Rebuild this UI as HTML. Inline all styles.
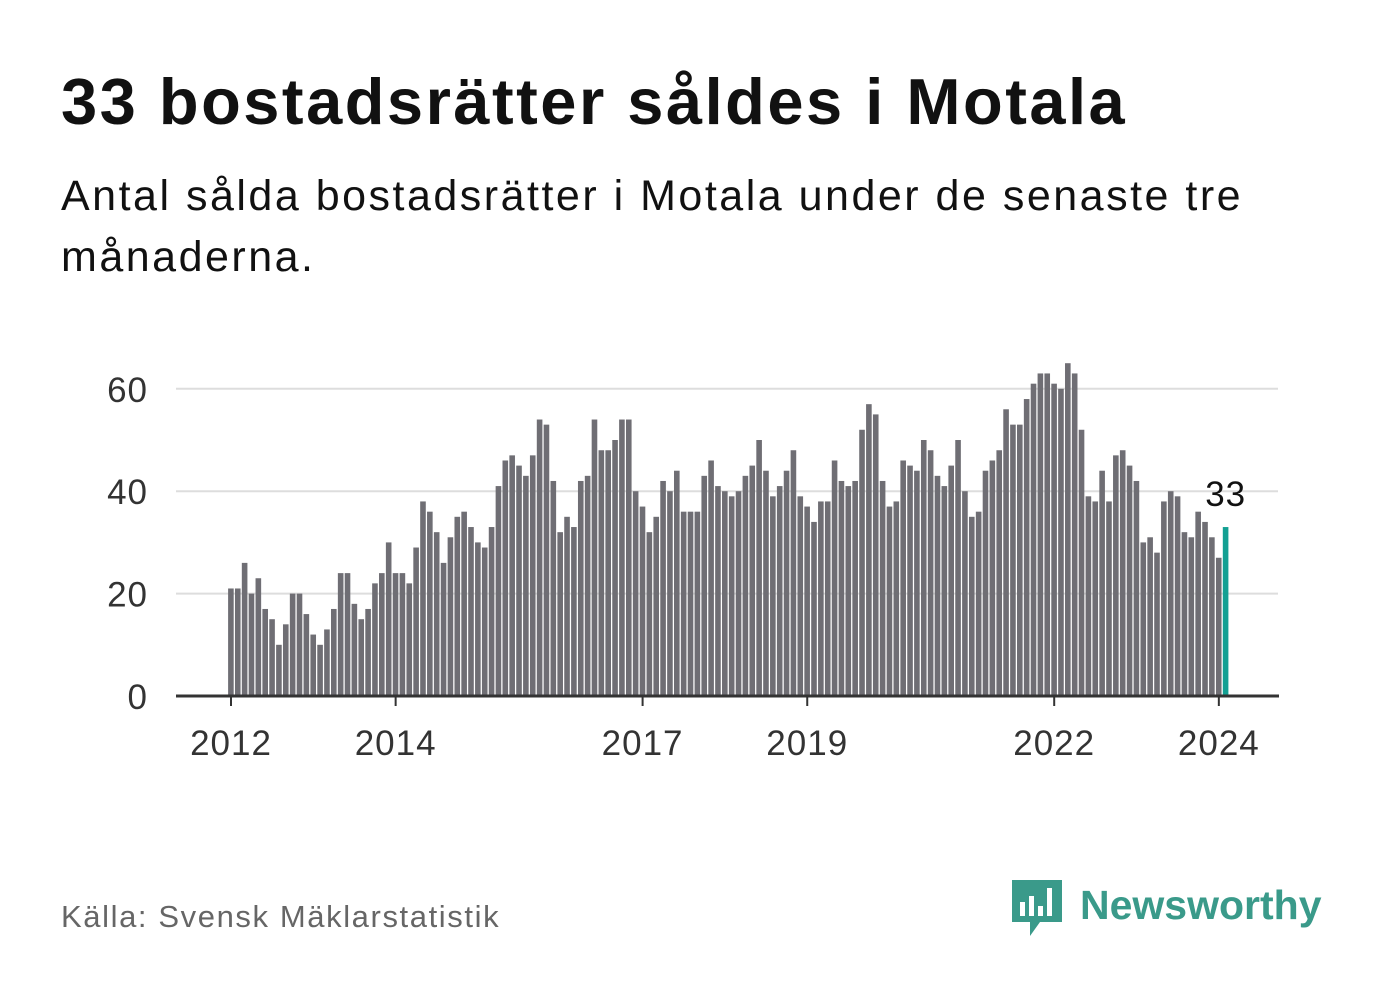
<!DOCTYPE html>
<html><head><meta charset="utf-8"><style>
body{margin:0;width:1382px;height:999px;background:#fff;font-family:"Liberation Sans",sans-serif;overflow:hidden;position:relative}
h1{position:absolute;left:61px;top:64px;margin:0;font-size:65px;font-weight:bold;color:#111;letter-spacing:2.5px;white-space:nowrap}
.sub{position:absolute;left:61px;top:166px;width:1280px;font-size:43px;line-height:61px;color:#111;letter-spacing:2.5px}
.src{position:absolute;left:61px;top:899px;font-size:31px;color:#666;letter-spacing:1.6px}
.logo{position:absolute;left:1010px;top:878px}
.logo span{position:absolute;left:70px;top:4px;font-size:41px;font-weight:bold;color:#3a9a8a;white-space:nowrap}
</style></head><body>
<h1>33 bostadsrätter såldes i Motala</h1>
<div class="sub">Antal sålda bostadsrätter i Motala under de senaste tre<br>månaderna.</div>
<svg id="chart" width="1382" height="999" style="position:absolute;left:0;top:0"></svg>
<div class="src">Källa: Svensk Mäklarstatistik</div>
<div class="logo">
<svg width="56" height="62" viewBox="0 0 56 62"><path d="M2 2h50v42H30l-10 14v-14H2z" fill="#3a9a8a"/><rect x="10" y="24" width="5" height="14" fill="#fff"/><rect x="19" y="18" width="5" height="20" fill="#fff"/><rect x="28" y="28" width="5" height="10" fill="#fff"/><rect x="37" y="10" width="5" height="28" fill="#fff"/></svg>
<span>Newsworthy</span></div>
<script>
const values=[21,21,26,20,23,17,15,10,14,20,20,16,
12,10,13,17,24,24,18,15,17,22,24,30,
24,24,22,29,38,36,32,26,31,35,36,33,
30,29,33,41,46,47,45,43,47,54,53,42,
32,35,33,42,43,54,48,48,50,54,54,40,
37,32,35,42,40,44,36,36,36,43,46,41,
40,39,40,43,45,50,44,39,41,44,48,39,
37,34,38,38,46,42,41,42,52,57,55,42,
37,38,46,45,44,50,48,43,41,45,50,40,
35,36,44,46,48,56,53,53,58,61,63,63,
61,60,65,63,52,39,38,44,38,47,48,45,
42,30,31,28,38,40,39,32,31,36,34,31,
27,33];
const yTicks=[0,20,40,60];
const xTickLabels=["2012","2014","2017","2019","2022","2024"];
const xTickIndex=[0,24,60,84,120,144];
const svg=document.getElementById('chart');
const NS='http://www.w3.org/2000/svg';
const x=i=>231+i*6.86;
const y=v=>696-v*5.12;
function mk(t,a){const e=document.createElementNS(NS,t);for(const k in a)e.setAttribute(k,a[k]);svg.appendChild(e);return e;}
yTicks.forEach(v=>{
 if(v>0){const g=mk('line',{x1:176,x2:1278,y1:y(v),y2:y(v),stroke:'#ddd','stroke-width':2});
 
 }
 const t=mk('text',{x:148,y:y(v)+13,'text-anchor':'end','font-size':35,fill:'#333','font-family':'Liberation Sans','letter-spacing':1});
 t.textContent=v;
 
 
});
values.forEach((v,i)=>{
 const last=i===values.length-1;
 const r=mk('rect',{x:x(i)-2.9,y:y(v),width:5.6,height:v*5.12,fill:last?'#13a093':'#6f6e74'});
 
 
});
const ax=mk('line',{x1:176,x2:1279,y1:696,y2:696,stroke:'#333','stroke-width':3});


xTickIndex.forEach((idx,k)=>{
 const tk=mk('line',{x1:x(idx),x2:x(idx),y1:696,y2:706,stroke:'#333','stroke-width':2});
 
 
 const t=mk('text',{x:x(idx),y:755,'text-anchor':'middle','font-size':35,fill:'#333','font-family':'Liberation Sans','letter-spacing':1});
 t.textContent=xTickLabels[k];
 
 
});
const li=values.length-1;
const lb=mk('text',{x:x(li),y:y(values[li])-21,'text-anchor':'middle','font-size':35,fill:'#111','font-family':'Liberation Sans','letter-spacing':1});
lb.textContent=values[li];


</script>
</body></html>
